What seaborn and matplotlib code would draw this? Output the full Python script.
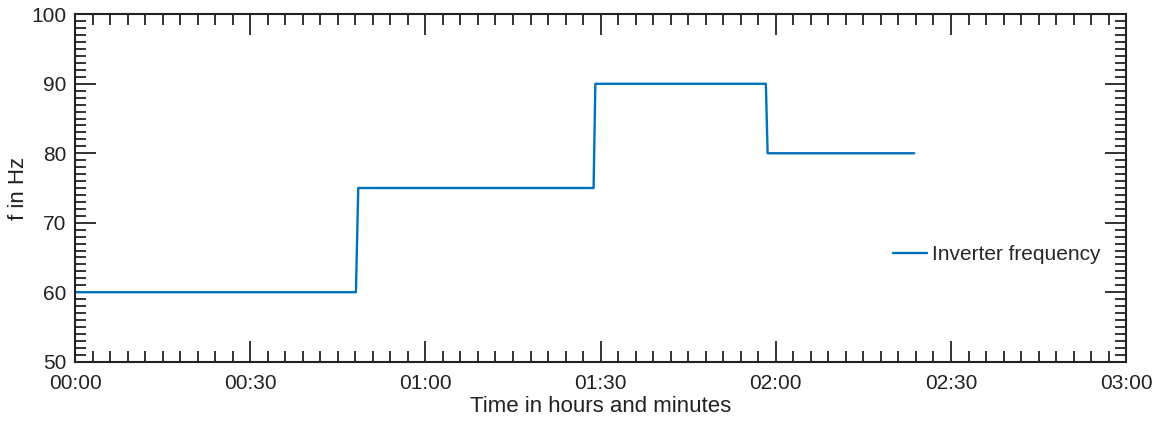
import pandas as pd
import matplotlib
matplotlib.use("Agg")
import matplotlib.pyplot as plt
import seaborn as sns
from matplotlib.ticker import MultipleLocator, FuncFormatter

# time in minutes since start, inverter frequency in Hz
minutes = [0, 48.1, 48.5, 88.8, 89.1, 118.3, 118.6, 143.7]
freq_hz = [60, 60, 75, 75, 90, 90, 80, 80]

df = pd.DataFrame({"Time": minutes, "Frequency": freq_hz})

sns.set_style("ticks")
plt.rcParams["font.family"] = ["Liberation Sans", "DejaVu Sans"]

fig = plt.figure(figsize=(11.56, 4.21), dpi=100)
ax = fig.add_axes([0.0649, 0.1409, 0.9093, 0.8251])

sns.lineplot(data=df, x="Time", y="Frequency", ax=ax, color="#0072BD",
             linewidth=1.7, sort=False, estimator=None, label="Inverter frequency")

ax.set_xlim(0, 180)
ax.set_ylim(50, 100)
ax.xaxis.set_major_locator(MultipleLocator(30))
ax.xaxis.set_minor_locator(MultipleLocator(3))
ax.yaxis.set_major_locator(MultipleLocator(10))
ax.yaxis.set_minor_locator(MultipleLocator(1))
ax.xaxis.set_major_formatter(FuncFormatter(lambda v, p: f"{int(v) // 60:02d}:{int(v) % 60:02d}"))

ax.tick_params(which="both", direction="in", top=True, right=True, width=1.3,
               color="#222222", labelcolor="#222222")
ax.tick_params(which="major", length=15, labelsize=15)
ax.tick_params(which="minor", length=8)
ax.tick_params(axis="x", which="major", pad=9)
ax.tick_params(axis="y", which="major", pad=6)
for s in ax.spines.values():
    s.set_linewidth(1.5)
    s.set_color("#222222")

ax.set_xlabel("Time in hours and minutes", fontsize=16, labelpad=2, color="#222222")
ax.set_ylabel("f in Hz", fontsize=16, labelpad=2, color="#222222")

ax.legend(frameon=False, loc="center left", bbox_to_anchor=(0.778, 0.308),
          borderaxespad=0, borderpad=0, fontsize=15, handlelength=1.63, handletextpad=0.25)

fig.savefig("out.png", dpi=100)
